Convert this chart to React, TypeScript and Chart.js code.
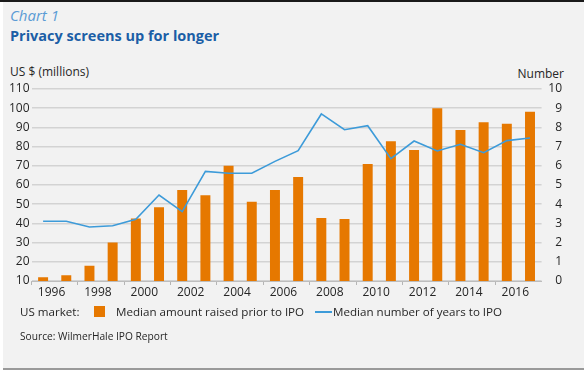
import React, { useEffect, useRef } from 'react';
import { Chart, registerables } from 'chart.js';

Chart.register(...registerables);

const years = [
  '1996', '1997', '1998', '1999', '2000', '2001', '2002', '2003', '2004', '2005', '2006',
  '2007', '2008', '2009', '2010', '2011', '2012', '2013', '2014', '2015', '2016', '2017',
];
// Median amount raised prior to IPO, US$ millions (left axis)
const amountRaised = [
  12, 13, 18, 30, 42.5, 48.4, 57.4, 54.6, 70, 51.3, 57.4,
  64.2, 42.8, 42.3, 70.9, 82.8, 78.2, 100, 88.6, 92.7, 91.9, 98.2,
];
// Median number of years to IPO (right axis)
const yearsToIpo = [
  3.11, 3.11, 2.81, 2.88, 3.21, 4.48, 3.61, 5.71, 5.61, 5.61, 6.23,
  6.79, 8.7, 7.88, 8.09, 6.37, 7.29, 6.77, 7.12, 6.68, 7.31, 7.45,
];
const leftMin = 10;
const leftMax = 110;
const leftStep = 10;
const rightMin = 0;
const rightMax = 10;
const rightStep = 1;

const FONT = '"Open Sans", sans-serif';
const ORANGE = '#e67800';
const BLUE = '#3d9bd9';
const TEXT = '#262626';

export default function App() {
  const ref = useRef<HTMLCanvasElement>(null);

  useEffect(() => {
    const chart = new Chart(ref.current as HTMLCanvasElement, {
      type: 'bar',
      data: {
        labels: years,
        datasets: [
          {
            type: 'line',
            label: 'Median number of years to IPO',
            data: yearsToIpo,
            yAxisID: 'y1',
            borderColor: BLUE,
            borderWidth: 1.6,
            pointRadius: 0,
            tension: 0,
            order: 1,
          } as any,
          {
            type: 'bar',
            label: 'Median amount raised prior to IPO',
            data: amountRaised,
            yAxisID: 'y',
            backgroundColor: ORANGE,
            categoryPercentage: 0.5,
            barPercentage: 0.86,
            order: 2,
          } as any,
        ],
      },
      options: {
        responsive: false,
        animation: false,
        layout: { padding: { top: 89, right: 22, bottom: 74, left: 0 } },
        plugins: { legend: { display: false }, tooltip: { enabled: false } },
        scales: {
          x: {
            type: 'category',
            offset: true,
            afterFit: (s: any) => { s.height = 19; },
            grid: {
              offset: true,
              drawOnChartArea: false,
              drawTicks: true,
              tickLength: 4,
              tickColor: (ctx: any) => (ctx.index % 2 === 0 ? '#b5b5b5' : 'rgba(0,0,0,0)'),
            },
            border: { display: true, color: '#bdbdbd', width: 1 },
            ticks: {
              autoSkip: false,
              maxRotation: 0,
              minRotation: 0,
              padding: 0,
              labelOffset: 8.5,
              color: TEXT,
              font: { family: FONT, size: 12 },
              callback: (_v: any, i: number) => (i % 2 === 0 ? years[i] : ''),
            },
          },
          y: {
            type: 'linear',
            position: 'left',
            min: leftMin,
            max: leftMax,
            afterFit: (s: any) => { s.width = 31.5; },
            grid: { color: '#d3d3d3', lineWidth: 1.5, drawTicks: false },
            border: { display: false },
            ticks: {
              stepSize: leftStep,
              padding: 2,
              color: TEXT,
              font: { family: FONT, size: 12 },
            },
          },
          y1: {
            type: 'linear',
            position: 'right',
            min: rightMin,
            max: rightMax,
            afterFit: (s: any) => { s.width = 20.4; },
            grid: { display: false, drawTicks: false },
            border: { display: false },
            ticks: {
              stepSize: rightStep,
              padding: 3,
              crossAlign: 'far',
              color: TEXT,
              font: { family: FONT, size: 12 },
            },
          },
        },
      } as any,
    });
    return () => chart.destroy();
  }, []);

  const abs = (o: React.CSSProperties): React.CSSProperties => ({ position: 'absolute', whiteSpace: 'nowrap', ...o });

  return (
    <div style={{ position: 'absolute', left: 0, top: 0, width: 584, height: 374, background: '#ffffff', fontFamily: FONT, color: TEXT, overflow: 'hidden' }}>
      <div style={abs({ left: 3, top: 0, width: 581, height: 369, background: '#f2f2f2' })} />
      <div style={abs({ left: 0, top: 0, width: 584, height: 2, background: '#1a1a1a' })} />
      <div style={abs({ left: 3, top: 368, width: 581, height: 2, background: '#9a9a9a' })} />
      <div style={abs({ left: 10, top: 5, fontSize: 15, fontStyle: 'italic', color: '#5b9bd5', lineHeight: '20px' })}>Chart 1</div>
      <div style={abs({ left: 10, top: 26, fontSize: 14.5, fontWeight: 700, color: '#1b5ea6', lineHeight: '20px' })}>Privacy screens up for longer</div>
      <div style={abs({ left: 10, top: 64, fontSize: 12, lineHeight: '16px' })}>US $ (millions)</div>
      <div style={abs({ right: 20, top: 66, fontSize: 12, lineHeight: '16px' })}>Number</div>
      <canvas ref={ref} width={584} height={374} style={abs({ left: 0, top: 0, width: 584, height: 374 })} />
      <div style={abs({ left: 20, top: 303, fontSize: 11.6, lineHeight: '18px' })}>US market:</div>
      <div style={abs({ left: 94, top: 306, width: 11, height: 11, background: ORANGE })} />
      <div style={abs({ left: 116, top: 303, fontSize: 11.6, lineHeight: '18px' })}>Median amount raised prior to IPO</div>
      <div style={abs({ left: 315, top: 311, width: 17, height: 2, background: BLUE })} />
      <div style={abs({ left: 333, top: 303, fontSize: 11.6, lineHeight: '18px' })}>Median number of years to IPO</div>
      <div style={abs({ left: 20, top: 328, fontSize: 10.2, lineHeight: '16px' })}>Source: WilmerHale IPO Report</div>
    </div>
  );
}
